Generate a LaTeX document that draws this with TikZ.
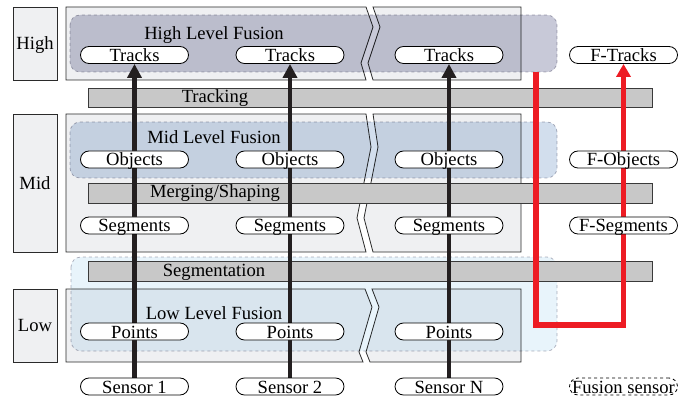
\documentclass[tikz,border=0pt]{standalone}
\usepackage{fontspec}
\setmainfont{Liberation Serif}
\usetikzlibrary{arrows.meta}
\definecolor{panelc}{HTML}{EFF0F2}
\definecolor{panelb}{HTML}{2A2A2A}
\definecolor{hic}{HTML}{C8C9D8}
\definecolor{midc}{HTML}{D2DEED}
\definecolor{lowc}{HTML}{E8F4FB}
\definecolor{dashc}{HTML}{B0B0BC}
\definecolor{barc}{HTML}{C8C8C8}
\definecolor{barb}{HTML}{3A3A3A}
\definecolor{redc}{HTML}{ED1C24}
\definecolor{arrc}{HTML}{231F20}
\pgfdeclarelayer{bgA}
\pgfdeclarelayer{bgB}
\pgfsetlayers{bgA,bgB,main}
\begin{document}
\begin{tikzpicture}[x=1pt,y=-1pt,
  every node/.style={font=\fontsize{18.6}{20}\selectfont},
  pill/.style={draw=black, line width=0.8pt, fill=white, rounded corners=8.5pt,
    minimum width=108pt, inner xsep=0pt, inner ysep=0.5pt, text height=14.5pt, text depth=1.5pt},
  dpill/.style={pill, dashed},
  panel/.style={fill=panelc, draw=panelb, line width=0.8pt},
  lvlbox/.style={panel, minimum width=44pt, inner sep=0pt, text height=12.6pt, text depth=0pt},
  fuse/.style={draw=dashc, dashed, line width=0.7pt, rounded corners=10pt},
  bar/.style={fill=barc, draw=barb, line width=0.8pt, minimum width=564pt, inner sep=0pt},
  flow/.style={draw=arrc, line width=4.3pt, -{Triangle[width=14pt,length=14pt]}},
  fflow/.style={draw=redc, line width=5.5pt, -{Triangle[width=14pt,length=13pt]}},
  lbl/.style={anchor=base, inner sep=0pt}
]
\useasboundingbox (0,0) rectangle (698,403);

% level boxes
\node[lvlbox, minimum height=73pt] (lhigh) at (35,43.5) {High};
\node[lvlbox, minimum height=138pt] (lmid) at (35,183) {Mid};
\node[lvlbox, minimum height=73pt] (llow) at (35,325.5) {Low};

\begin{pgfonlayer}{bgA}
% panels
\path[panel] (66,7) -- (366,7) -- (373,27) -- (361,63) -- (366,80) -- (66,80) -- cycle;
\path[panel] (373,7) -- (521,7) -- (521,80) -- (373,80) -- (368,63) -- (380,27) -- cycle;
\path[panel] (66,114) -- (366,114) -- (371,147) -- (357,218) -- (366,252) -- (66,252) -- cycle;
\path[panel] (373,114) -- (521,114) -- (521,252) -- (373,252) -- (364,218) -- (378,147) -- cycle;
\path[panel] (66,289) -- (365,289) -- (372,307) -- (359,352) -- (363,362) -- (66,362) -- cycle;
\path[panel] (372,289) -- (521,289) -- (521,362) -- (370,362) -- (366,352) -- (379,307) -- cycle;
% fusion regions
\begin{scope}[blend mode=multiply]
\path[fuse, fill=hic] (70,15) rectangle (557,72);
\path[fuse, fill=midc] (70,122) rectangle (557,178);
\path[fuse, fill=lowc] (71,257) rectangle (557,351);
\end{scope}
% bars
\node[bar, minimum height=19pt] (btrack) at (370,97.5) {};
\node[bar, minimum height=20pt] (bmerge) at (370,193) {};
\node[bar, minimum height=20pt] (bseg) at (370,271) {};
\end{pgfonlayer}

% fusion labels
\node[lbl] (thigh) at (214,39.3) {High Level Fusion};
\node[lbl] (tmid) at (214,144) {Mid Level Fusion};
\node[lbl] (tlow) at (214,319.3) {Low Level Fusion};
% bar labels
\node[lbl] (ttrack) at (215,102.7) {Tracking};
\node[lbl] (tmerge) at (215,197.7) {Merging/Shaping};
\node[lbl] (tseg) at (214,276) {Segmentation};

% column 1
\node[pill] (tr1) at (134.5,55) {Tracks};
\node[pill] (ob1) at (134.5,159.5) {Objects};
\node[pill] (sg1) at (134.5,225.5) {Segments};
\node[pill] (pt1) at (134.5,331.5) {Points};
\node[pill] (sn1) at (134.5,386.5) {Sensor 1};
% column 2
\node[pill] (tr2) at (290,55) {Tracks};
\node[pill] (ob2) at (290,159.5) {Objects};
\node[pill] (sg2) at (290,225.5) {Segments};
\node[pill] (pt2) at (290,331.5) {Points};
\node[pill] (sn2) at (290,386.5) {Sensor 2};
% column 3
\node[pill] (tr3) at (449,55) {Tracks};
\node[pill] (ob3) at (449,159.5) {Objects};
\node[pill] (sg3) at (449,225.5) {Segments};
\node[pill] (pt3) at (449,331.5) {Points};
\node[pill] (sn3) at (449,386.5) {Sensor N};
% fusion column
\node[pill] (ftr) at (623.5,55) {F-Tracks};
\node[pill] (fob) at (623.5,159.5) {F-Objects};
\node[pill] (fsg) at (623.5,225.5) {F-Segments};
\node[dpill] (fsn) at (623.5,386.5) {Fusion sensor};

\coordinate (rtop) at (536,72);
\coordinate (rbend) at (536,325);

\begin{pgfonlayer}{bgB}
\draw[flow] (sn1.north) -- (tr1.south);
\draw[flow] (sn2.north) -- (tr2.south);
\draw[flow] (sn3.north) -- (tr3.south);
\draw[fflow] (rtop) -- (rbend) -| (ftr.south);
\end{pgfonlayer}
\end{tikzpicture}
\end{document}
